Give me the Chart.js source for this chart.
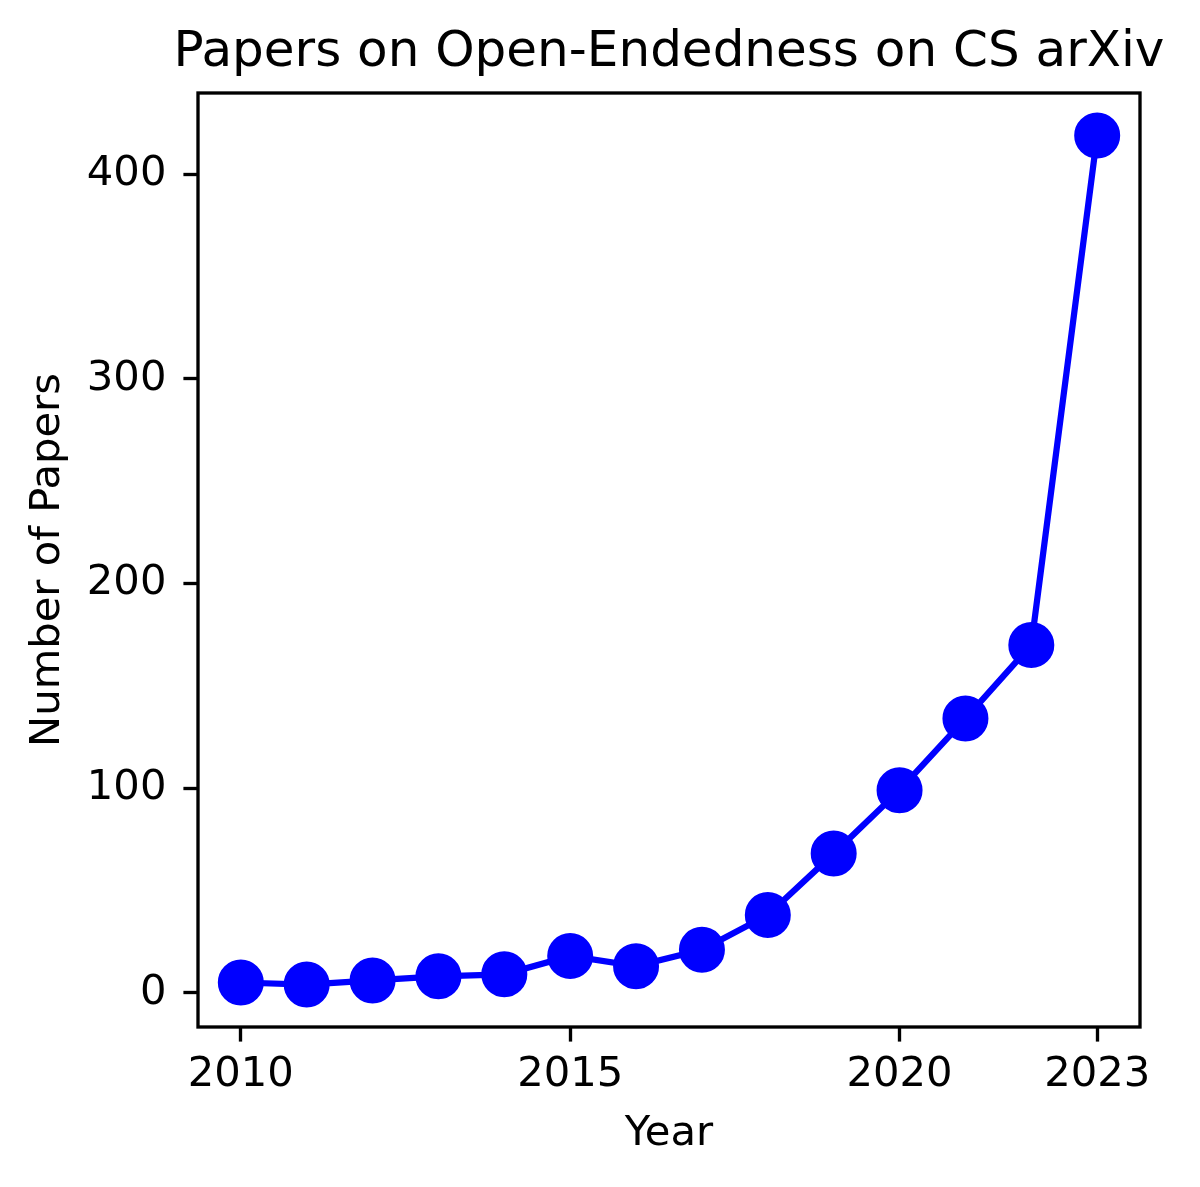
<!DOCTYPE html>
<html>
<head>
<meta charset="utf-8">
<script src="https://cdn.jsdelivr.net/npm/chart.js@4"></script>
<style>
    html, body { margin: 0; padding: 0; background: #fff; }
    #wrap { width: 1200px; height: 1187px; }
</style>
</head>
<body>
<div id="wrap"><canvas id="chart" width="1200" height="1187"></canvas></div>
<script>
// values
const years = [2010, 2011, 2012, 2013, 2014, 2015, 2016, 2017, 2018, 2019, 2020, 2021, 2022, 2023];
const papers = [5, 4, 6, 8, 9, 18, 13, 21, 38, 68, 99, 134, 170, 419];
const xTicks = [2010, 2015, 2020, 2023];
const yTicks = [0, 100, 200, 300, 400];

window.addEventListener("load", () => {
    Chart.defaults.font.family = "'DejaVu Sans', sans-serif";
    Chart.defaults.color = "#000";

    // matplotlib style 5% margins around the data
    const xPad = (Math.max(...years) - Math.min(...years)) * 0.05;
    const yPad = (Math.max(...papers) - Math.min(...papers)) * 0.05;

    const tickFont = { size: 41.7, lineHeight: 1.2 };

    // frame around the plot area
    const frame = {
        id: "frame",
        afterDatasetsDraw(chart) {
            const { ctx, chartArea: a } = chart;
            ctx.save();
            ctx.strokeStyle = "#000";
            ctx.lineWidth = 3.33;
            ctx.strokeRect(a.left, a.top, a.right - a.left, a.bottom - a.top);
            ctx.restore();
        }
    };

    // centre the title over the plot area without squeezing it
    const centerTitle = {
        id: "centerTitle",
        afterLayout(chart) {
            const t = chart.titleBlock;
            const a = chart.chartArea;
            if (!t) return;
            const c = (a.left + a.right) / 2;
            const half = Math.min(c, chart.width - c);
            t.left = c - half;
            t.right = c + half;
        }
    };

    const points = years.map((y, i) => ({ x: y, y: papers[i] }));

    new Chart(document.getElementById("chart"), {
        type: "line",
        data: {
            datasets: [{
                data: points,
                borderColor: "#0000ff",
                backgroundColor: "#0000ff",
                borderWidth: 6.25,
                pointRadius: 21,
                pointBorderWidth: 4,
                pointBackgroundColor: "#0000ff",
                pointBorderColor: "#0000ff",
                tension: 0,
                clip: false
            }]
        },
        options: {
            responsive: false,
            devicePixelRatio: 1,
            animation: false,
            layout: { autoPadding: false, padding: { left: 0, right: 60, top: 0, bottom: 0 } },
            plugins: {
                legend: { display: false },
                tooltip: { enabled: false },
                title: {
                    display: true,
                    text: "Papers on Open-Endedness on CS arXiv",
                    color: "#000",
                    font: { size: 50, weight: "normal", lineHeight: 1.2 },
                    padding: { top: 23, bottom: 10 }
                }
            },
            scales: {
                x: {
                    type: "linear",
                    min: Math.min(...years) - xPad,
                    max: Math.max(...years) + xPad,
                    afterBuildTicks: (scale) => {
                        scale.ticks = xTicks.map(v => ({ value: v }));
                    },
                    afterFit: (scale) => { scale.height = 160; },
                    border: { display: false },
                    grid: {
                        drawOnChartArea: false,
                        drawTicks: true,
                        tickLength: 14.6,
                        tickWidth: 3.33,
                        tickColor: "#000"
                    },
                    ticks: {
                        font: tickFont,
                        color: "#000",
                        padding: 9,
                        maxRotation: 0,
                        autoSkip: false,
                        callback: (v) => String(v)
                    },
                    title: {
                        display: true,
                        text: "Year",
                        color: "#000",
                        font: tickFont,
                        padding: { top: 0, bottom: 28 }
                    }
                },
                y: {
                    type: "linear",
                    min: Math.min(...papers) - yPad,
                    max: Math.max(...papers) + yPad,
                    afterBuildTicks: (scale) => {
                        scale.ticks = yTicks.map(v => ({ value: v }));
                    },
                    afterFit: (scale) => { scale.width = 198; },
                    border: { display: false },
                    grid: {
                        drawOnChartArea: false,
                        drawTicks: true,
                        tickLength: 14.6,
                        tickWidth: 3.33,
                        tickColor: "#000"
                    },
                    ticks: {
                        font: tickFont,
                        color: "#000",
                        padding: 17
                    },
                    title: {
                        display: true,
                        text: "Number of Papers",
                        color: "#000",
                        font: tickFont,
                        padding: { top: 23, bottom: 0 }
                    }
                }
            }
        },
        plugins: [frame, centerTitle]
    });
});
</script>
</body>
</html>
